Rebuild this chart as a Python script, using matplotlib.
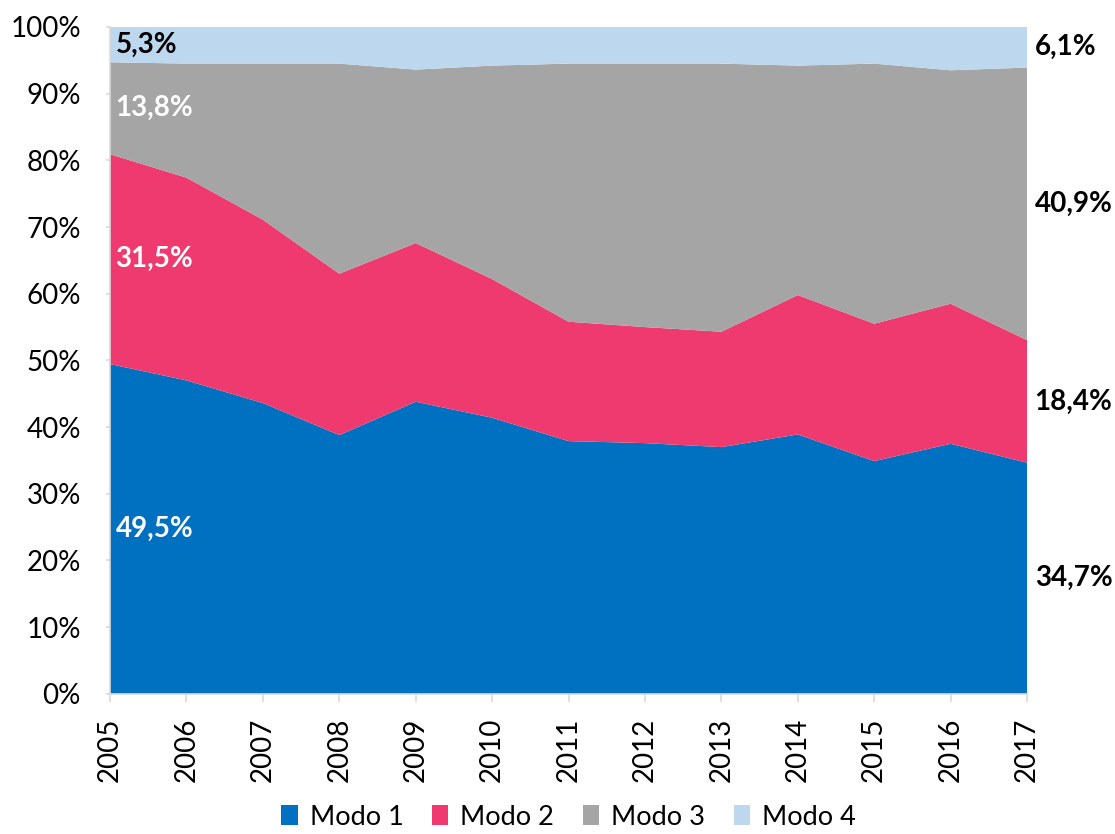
# %% Stacked share of modes, 2005-2017
import numpy as np
import matplotlib.pyplot as plt

plt.rcParams["font.family"] = ["Lato", "DejaVu Sans"]

# %% Data (percent)
years = np.arange(2005, 2018)
modo1 = [49.5, 47.0, 43.6, 38.8, 43.8, 41.4, 37.9, 37.6, 37.0, 38.9, 34.9, 37.5, 34.7]
modo2 = [31.5, 30.4, 27.5, 24.2, 23.8, 20.8, 17.9, 17.4, 17.3, 20.9, 20.6, 21.0, 18.4]
modo3 = [13.8, 17.1, 23.4, 31.5, 26.0, 32.0, 38.7, 39.5, 40.2, 34.4, 39.0, 35.0, 40.9]
modo4 = [5.3, 5.5, 5.5, 5.5, 6.4, 5.8, 5.5, 5.5, 5.5, 5.8, 5.5, 6.5, 6.1]
labels = ["Modo 1", "Modo 2", "Modo 3", "Modo 4"]
colors = ["#0070C0", "#EE3A6E", "#A5A5A5", "#BDD7EE"]

# label text colour for first year
first_col = ["white", "white", "white", "black"]

# %% Plot
series = np.array([modo1, modo2, modo3, modo4])
shares = series / series.sum(axis=0) * 100

fig = plt.figure(figsize=(11.15, 8.34), dpi=100)
ax = fig.add_axes([0.0987, 0.168, 0.8224, 0.7997])

ax.stackplot(years, shares, colors=colors, labels=labels, linewidth=0)

ax.set_xlim(years[0], years[-1])
ax.set_ylim(0, 100)
ax.set_yticks(np.arange(0, 101, 10))
ax.set_yticklabels([f"{v}%" for v in range(0, 101, 10)], fontsize=20)
ax.set_xticks(years)
ax.set_xticklabels([str(y) for y in years], rotation=90, fontsize=20)

for side in ["top", "right"]:
    ax.spines[side].set_visible(False)
for side in ["left", "bottom"]:
    ax.spines[side].set_color("#D9D9D9")
    ax.spines[side].set_linewidth(1.2)
ax.tick_params(axis="x", colors="#D9D9D9", labelcolor="black", length=6, width=1.2, pad=11)
ax.tick_params(axis="y", colors="#D9D9D9", labelcolor="black", length=3, width=1.2, pad=18)

# data labels at the middle of each band
cum = np.cumsum(shares, axis=0)
mids = cum - shares / 2
for i in range(4):
    ax.text(years[0] + 0.07, mids[i, 0], f"{series[i, 0]:.1f}%".replace(".", ","),
            color=first_col[i], fontsize=20, fontweight="bold", va="center", ha="left")
    ax.text(years[-1] + 0.1, mids[i, -1], f"{series[i, -1]:.1f}%".replace(".", ","),
            color="black", fontsize=20, fontweight="bold", va="center", ha="left",
            clip_on=False)

ax.legend(loc="lower center", bbox_to_anchor=(0.5, -0.232), ncol=4, frameon=False,
          fontsize=19.5, handlelength=0.6, handleheight=0.75, handletextpad=0.45,
          columnspacing=1.05, borderpad=0.2)

fig.savefig("out.png", dpi=100)
